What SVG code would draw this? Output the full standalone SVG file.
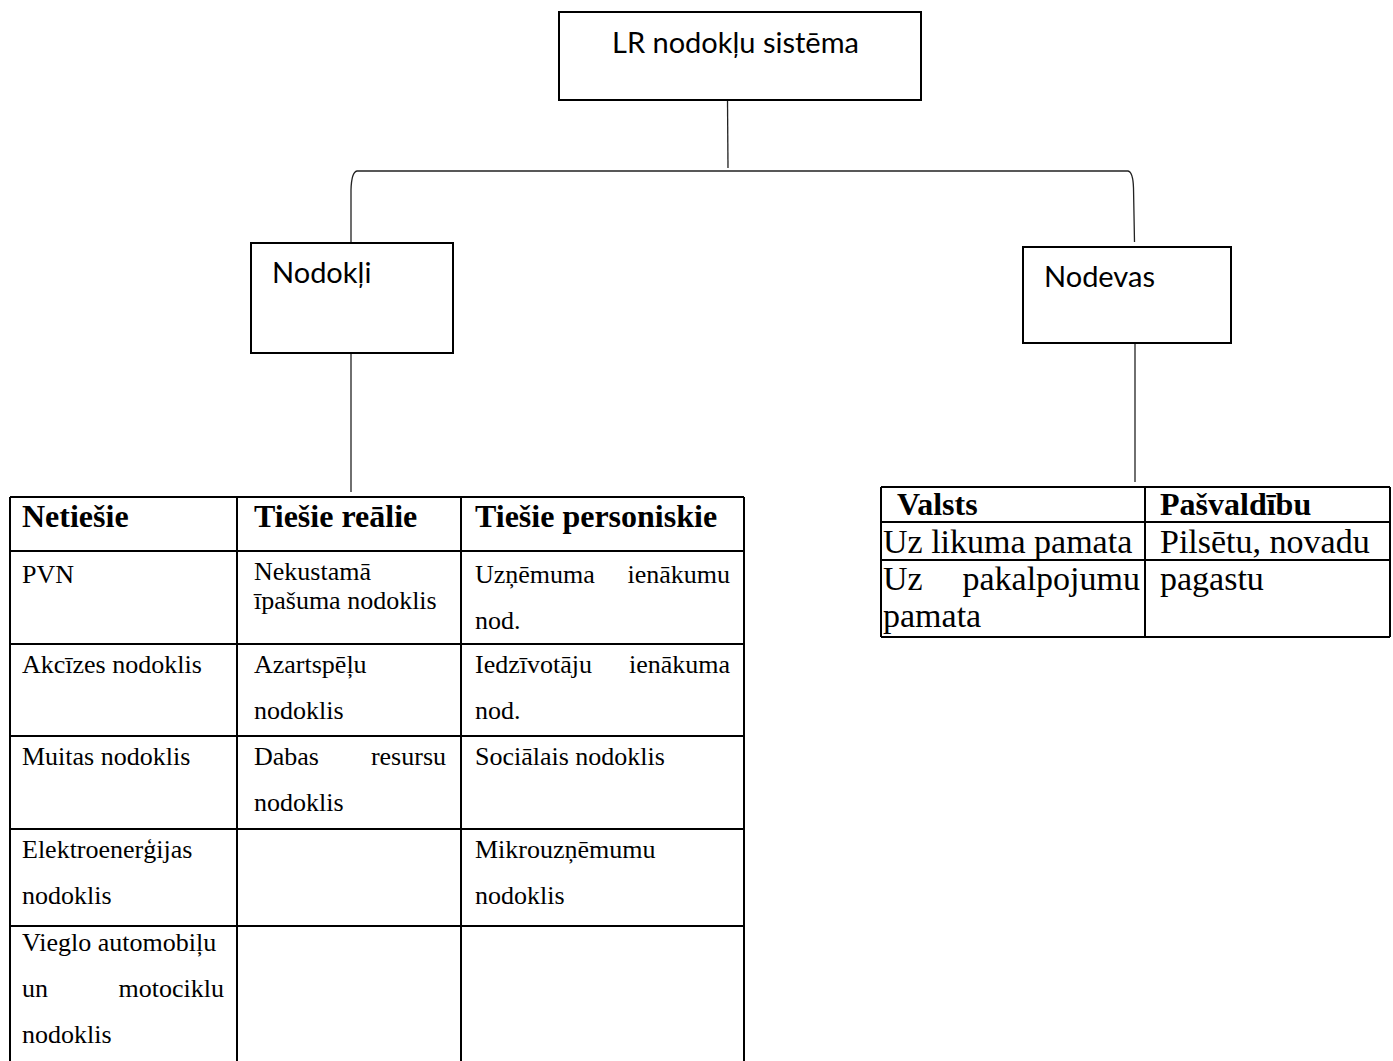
<svg xmlns="http://www.w3.org/2000/svg" width="1393" height="1061" viewBox="0 0 1393 1061">
<style>
.box{fill:#fff;stroke:#000;stroke-width:2}
.con{fill:none;stroke:#222;stroke-width:1.3}
.tl{stroke:#000;stroke-width:2;fill:none}
.sans{font-family:Lato,"Open Sans","Liberation Sans",sans-serif;font-size:29px;fill:#000}
.th{font-family:"Liberation Serif","Times New Roman",serif;font-weight:bold;font-size:32px;fill:#000}
.td{font-family:"Liberation Serif","Times New Roman",serif;font-size:26px;fill:#000}
.rh{font-family:"Liberation Serif","Times New Roman",serif;font-weight:bold;font-size:32px;fill:#000}
.rd{font-family:"Liberation Serif","Times New Roman",serif;font-size:34px;fill:#000}
.end{text-anchor:end}
</style>
<rect width="1393" height="1061" fill="#fff"/>
<g id="connectors">
<path class="con" d="M727.5,100 L728,168"/>
<path class="con" d="M351,243 L351,190 Q351.5,172 357,171 L1128,171 Q1133,172 1133.5,188 L1134.5,242"/>
<path class="con" d="M351,353 L351,492"/>
<path class="con" d="M1135,343 L1135,482"/>
</g>
<g id="node-root">
<rect class="box" x="559" y="12" width="362" height="88"/>
<text class="sans" x="612" y="53">LR nodokļu sistēma</text>
</g>
<g id="node-nodokli">
<rect class="box" x="251" y="243" width="202" height="110"/>
<text class="sans" x="272" y="283">Nodokļi</text>
</g>
<g id="node-nodevas">
<rect class="box" x="1023" y="247" width="208" height="96"/>
<text class="sans" x="1044" y="287">Nodevas</text>
</g>
<g id="table-nodokli">
<path class="tl" d="M10,497 H744 M10,551 H744 M10,644 H744 M10,736 H744 M10,829 H744 M10,926 H744 M10,497 V1061 M237,497 V1061 M461,497 V1061 M744,497 V1061"/>
<text class="th" x="22" y="527">Netiešie</text>
<text class="th" x="254" y="527">Tiešie reālie</text>
<text class="th" x="475" y="527">Tiešie personiskie</text>
<text class="td" x="22" y="583">PVN</text>
<text class="td" x="254" y="580">Nekustamā</text>
<text class="td" x="254" y="609">īpašuma nodoklis</text>
<text class="td" x="475" y="583">Uzņēmuma</text>
<text class="td end" x="730" y="583">ienākumu</text>
<text class="td" x="475" y="629">nod.</text>
<text class="td" x="22" y="673">Akcīzes nodoklis</text>
<text class="td" x="254" y="673">Azartspēļu</text>
<text class="td" x="254" y="719">nodoklis</text>
<text class="td" x="475" y="673">Iedzīvotāju</text>
<text class="td end" x="730" y="673">ienākuma</text>
<text class="td" x="475" y="719">nod.</text>
<text class="td" x="22" y="765">Muitas nodoklis</text>
<text class="td" x="254" y="765">Dabas</text>
<text class="td end" x="446" y="765">resursu</text>
<text class="td" x="254" y="811">nodoklis</text>
<text class="td" x="475" y="765">Sociālais nodoklis</text>
<text class="td" x="22" y="858">Elektroenerģijas</text>
<text class="td" x="22" y="904">nodoklis</text>
<text class="td" x="475" y="858">Mikrouzņēmumu</text>
<text class="td" x="475" y="904">nodoklis</text>
<text class="td" x="22" y="951">Vieglo automobiļu</text>
<text class="td" x="22" y="997">un</text>
<text class="td end" x="224" y="997">motociklu</text>
<text class="td" x="22" y="1043">nodoklis</text>
</g>
<g id="table-nodevas">
<path class="tl" d="M881,487 H1390 M881,522 H1390 M881,560 H1390 M881,637 H1390 M881,487 V637 M1145,487 V637 M1390,487 V637"/>
<text class="rh" x="897" y="515">Valsts</text>
<text class="rh" x="1160" y="515">Pašvaldību</text>
<text class="rd" x="883" y="553">Uz likuma pamata</text>
<text class="rd" x="1160" y="553">Pilsētu, novadu</text>
<text class="rd" x="883" y="590">Uz</text>
<text class="rd end" x="1140" y="590">pakalpojumu</text>
<text class="rd" x="883" y="627">pamata</text>
<text class="rd" x="1160" y="590">pagastu</text>
</g>
</svg>
